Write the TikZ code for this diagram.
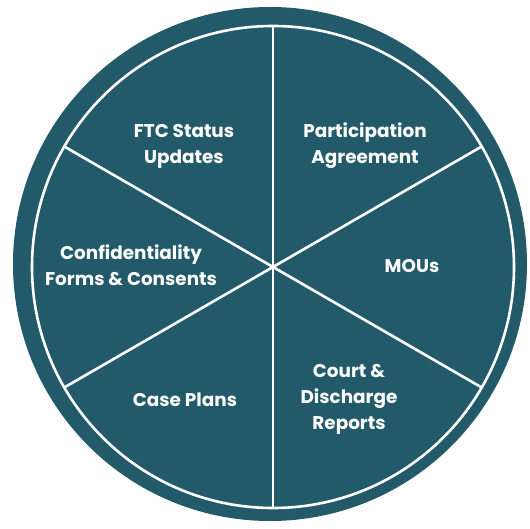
\documentclass[tikz,border=0pt]{standalone}
\usepackage{fontspec}
\setmainfont{Poppins}
\definecolor{wheelteal}{HTML}{235A69}
\begin{document}
\begin{tikzpicture}[x=1pt,y=-1pt,
    lbl/.style={text=white, font=\bfseries\fontsize{18.4}{26}\selectfont, align=center}]
        \useasboundingbox (0,0) rectangle (530,529);
        \coordinate (c) at (273,267);
        \fill[wheelteal] (270,264) circle (257);
        \draw[white, line width=2.6pt] (c) circle (241);
        \foreach \a in {30,90,...,330}
            \draw[white, line width=2.6pt] (c) -- ++(\a:241);
        \node[lbl] (ftc) at (184,146) {FTC Status\\Updates};
        \node[lbl] (part) at (365,146) {Participation\\Agreement};
        \node[lbl] (mou) at (412,266) {MOUs};
        \node[lbl] (conf) at (131,265) {Confidentiality\\Forms \& Consents};
        \node[lbl] (case) at (185,400) {Case Plans};
        \node[lbl] (court) at (349,399) {Court \&\\Discharge\\Reports};
    \end{tikzpicture}
\end{document}
